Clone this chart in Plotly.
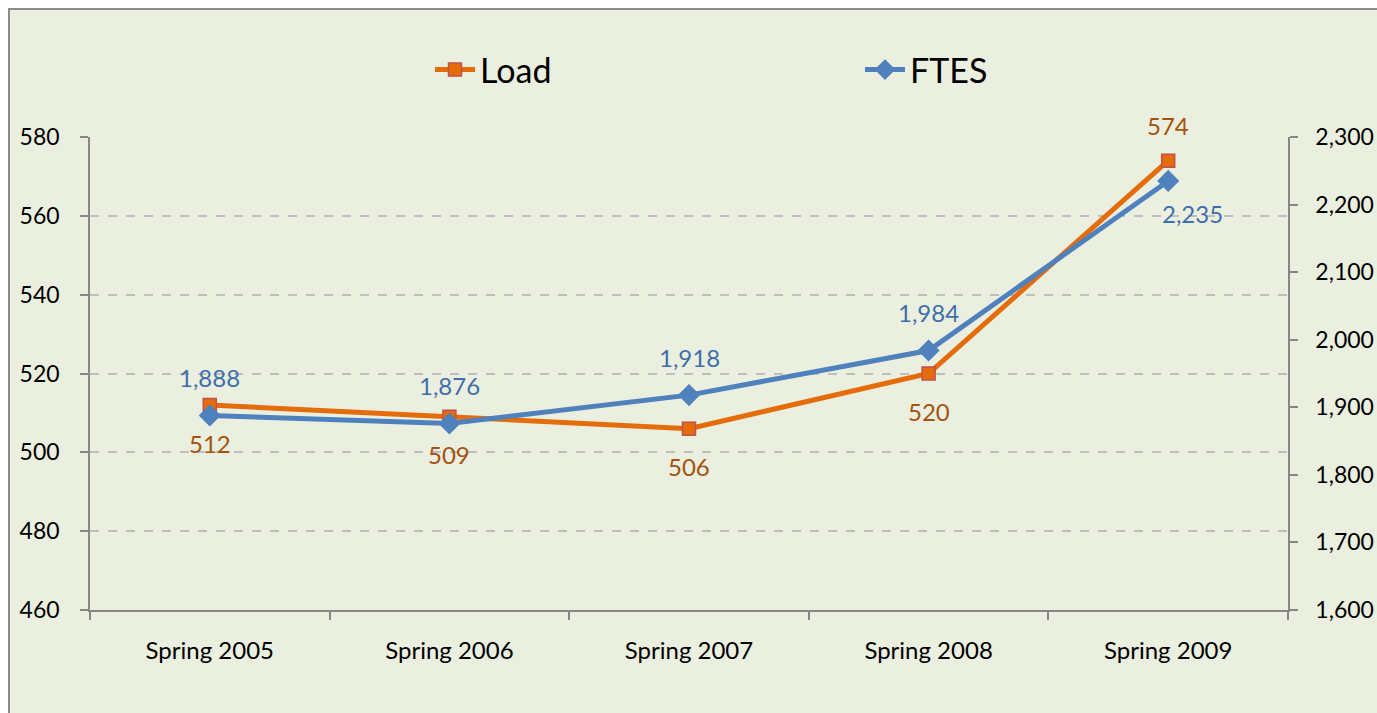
import plotly.graph_objects as go

categories = ["Spring 2005", "Spring 2006", "Spring 2007", "Spring 2008", "Spring 2009"]
load = [512, 509, 506, 520, 574]
ftes = [1888, 1876, 1918, 1984, 2235]
load_label_side = ["below", "below", "below", "below", "above"]
ftes_label_side = ["above", "above", "above", "above", "below"]

FONT = "Lato"
ORANGE = "#E46C0A"
BLUE = "#4F81BD"
LOAD_TXT = "#A5520F"
FTES_TXT = "#3F6FAA"
AXIS = "#878787"

W, H = 1377, 713
L, R, T, B = 90, 89, 137, 103
PW, PH = W - L - R, H - T - B

fig = go.Figure()
fig.add_trace(go.Scatter(
    x=categories, y=load, name="Load", mode="lines+markers",
    line=dict(color=ORANGE, width=5),
    marker=dict(symbol="square", size=13, color=ORANGE, line=dict(color="#C0504D", width=1.5)),
    yaxis="y"))
fig.add_trace(go.Scatter(
    x=categories, y=ftes, name="FTES", mode="lines+markers",
    line=dict(color=BLUE, width=5),
    marker=dict(symbol="diamond", size=17, color=BLUE),
    yaxis="y2"))

annotations = []
for c, v, s in zip(categories, load, load_label_side):
    annotations.append(dict(x=c, y=v, xref="x", yref="y", text=f"{v:,}", showarrow=False,
                            font=dict(family=FONT, size=24, color=LOAD_TXT),
                            yshift=(35 if s == "above" else -38)))
for c, v, s in zip(categories, ftes, ftes_label_side):
    annotations.append(dict(x=c, y=v, xref="x", yref="y2", text=f"{v:,}", showarrow=False,
                            font=dict(family=FONT, size=24, color=FTES_TXT),
                            xshift=(24 if s == "below" else 0),
                            yshift=(38 if s == "above" else -33)))

fig.update_layout(
    width=W, height=H,
    margin=dict(l=L, r=R, t=T, b=B, autoexpand=False),
    paper_bgcolor="white",
    plot_bgcolor="rgba(0,0,0,0)",
    font=dict(family=FONT, size=23, color="black"),
    showlegend=True,
    legend=dict(orientation="h", x=(430 - L) / PW, xanchor="left", y=(PH + T - 41) / PH, yanchor="top",
                font=dict(family=FONT, size=34, color="black"), bgcolor="rgba(0,0,0,0)",
                entrywidth=375, entrywidthmode="pixels", itemwidth=40),
    xaxis=dict(type="category", range=[-0.5, 4.5], showgrid=False, showline=True, linecolor=AXIS, linewidth=1.5,
               ticks="outside", tickson="boundaries", ticklen=8, tickcolor=AXIS, tickwidth=1.5,
               ticklabelstandoff=18, tickfont=dict(family=FONT, size=24)),
    yaxis=dict(range=[460, 580], dtick=20, showgrid=True, gridcolor="#BFBFBF", griddash="dash", gridwidth=1.5,
               zeroline=False, showline=True, linecolor=AXIS, linewidth=1.5, ticks="outside", ticklen=8,
               tickcolor=AXIS, tickwidth=1.5, ticklabelstandoff=16, tickfont=dict(family=FONT, size=23)),
    yaxis2=dict(range=[1600, 2300], dtick=100, overlaying="y", side="right", showgrid=False, zeroline=False,
                showline=True, linecolor=AXIS, linewidth=1.5, ticks="outside", ticklen=8, tickcolor=AXIS,
                tickwidth=1.5, tickformat=",d", ticklabelstandoff=13, tickfont=dict(family=FONT, size=23)),
    annotations=annotations,
    shapes=[dict(type="rect", xref="paper", yref="paper", layer="below",
                 x0=(9 - L) / PW, x1=(W + 20 - L) / PW, y0=(-20 - B) / PH, y1=(PH + T - 9) / PH,
                 fillcolor="#EBEFDF", line=dict(color="#8C8C8C", width=2))],
)

fig.write_html("out.html", config={"displayModeBar": False},
               post_script="document.body.style.margin='0';document.body.style.overflow='hidden';")
